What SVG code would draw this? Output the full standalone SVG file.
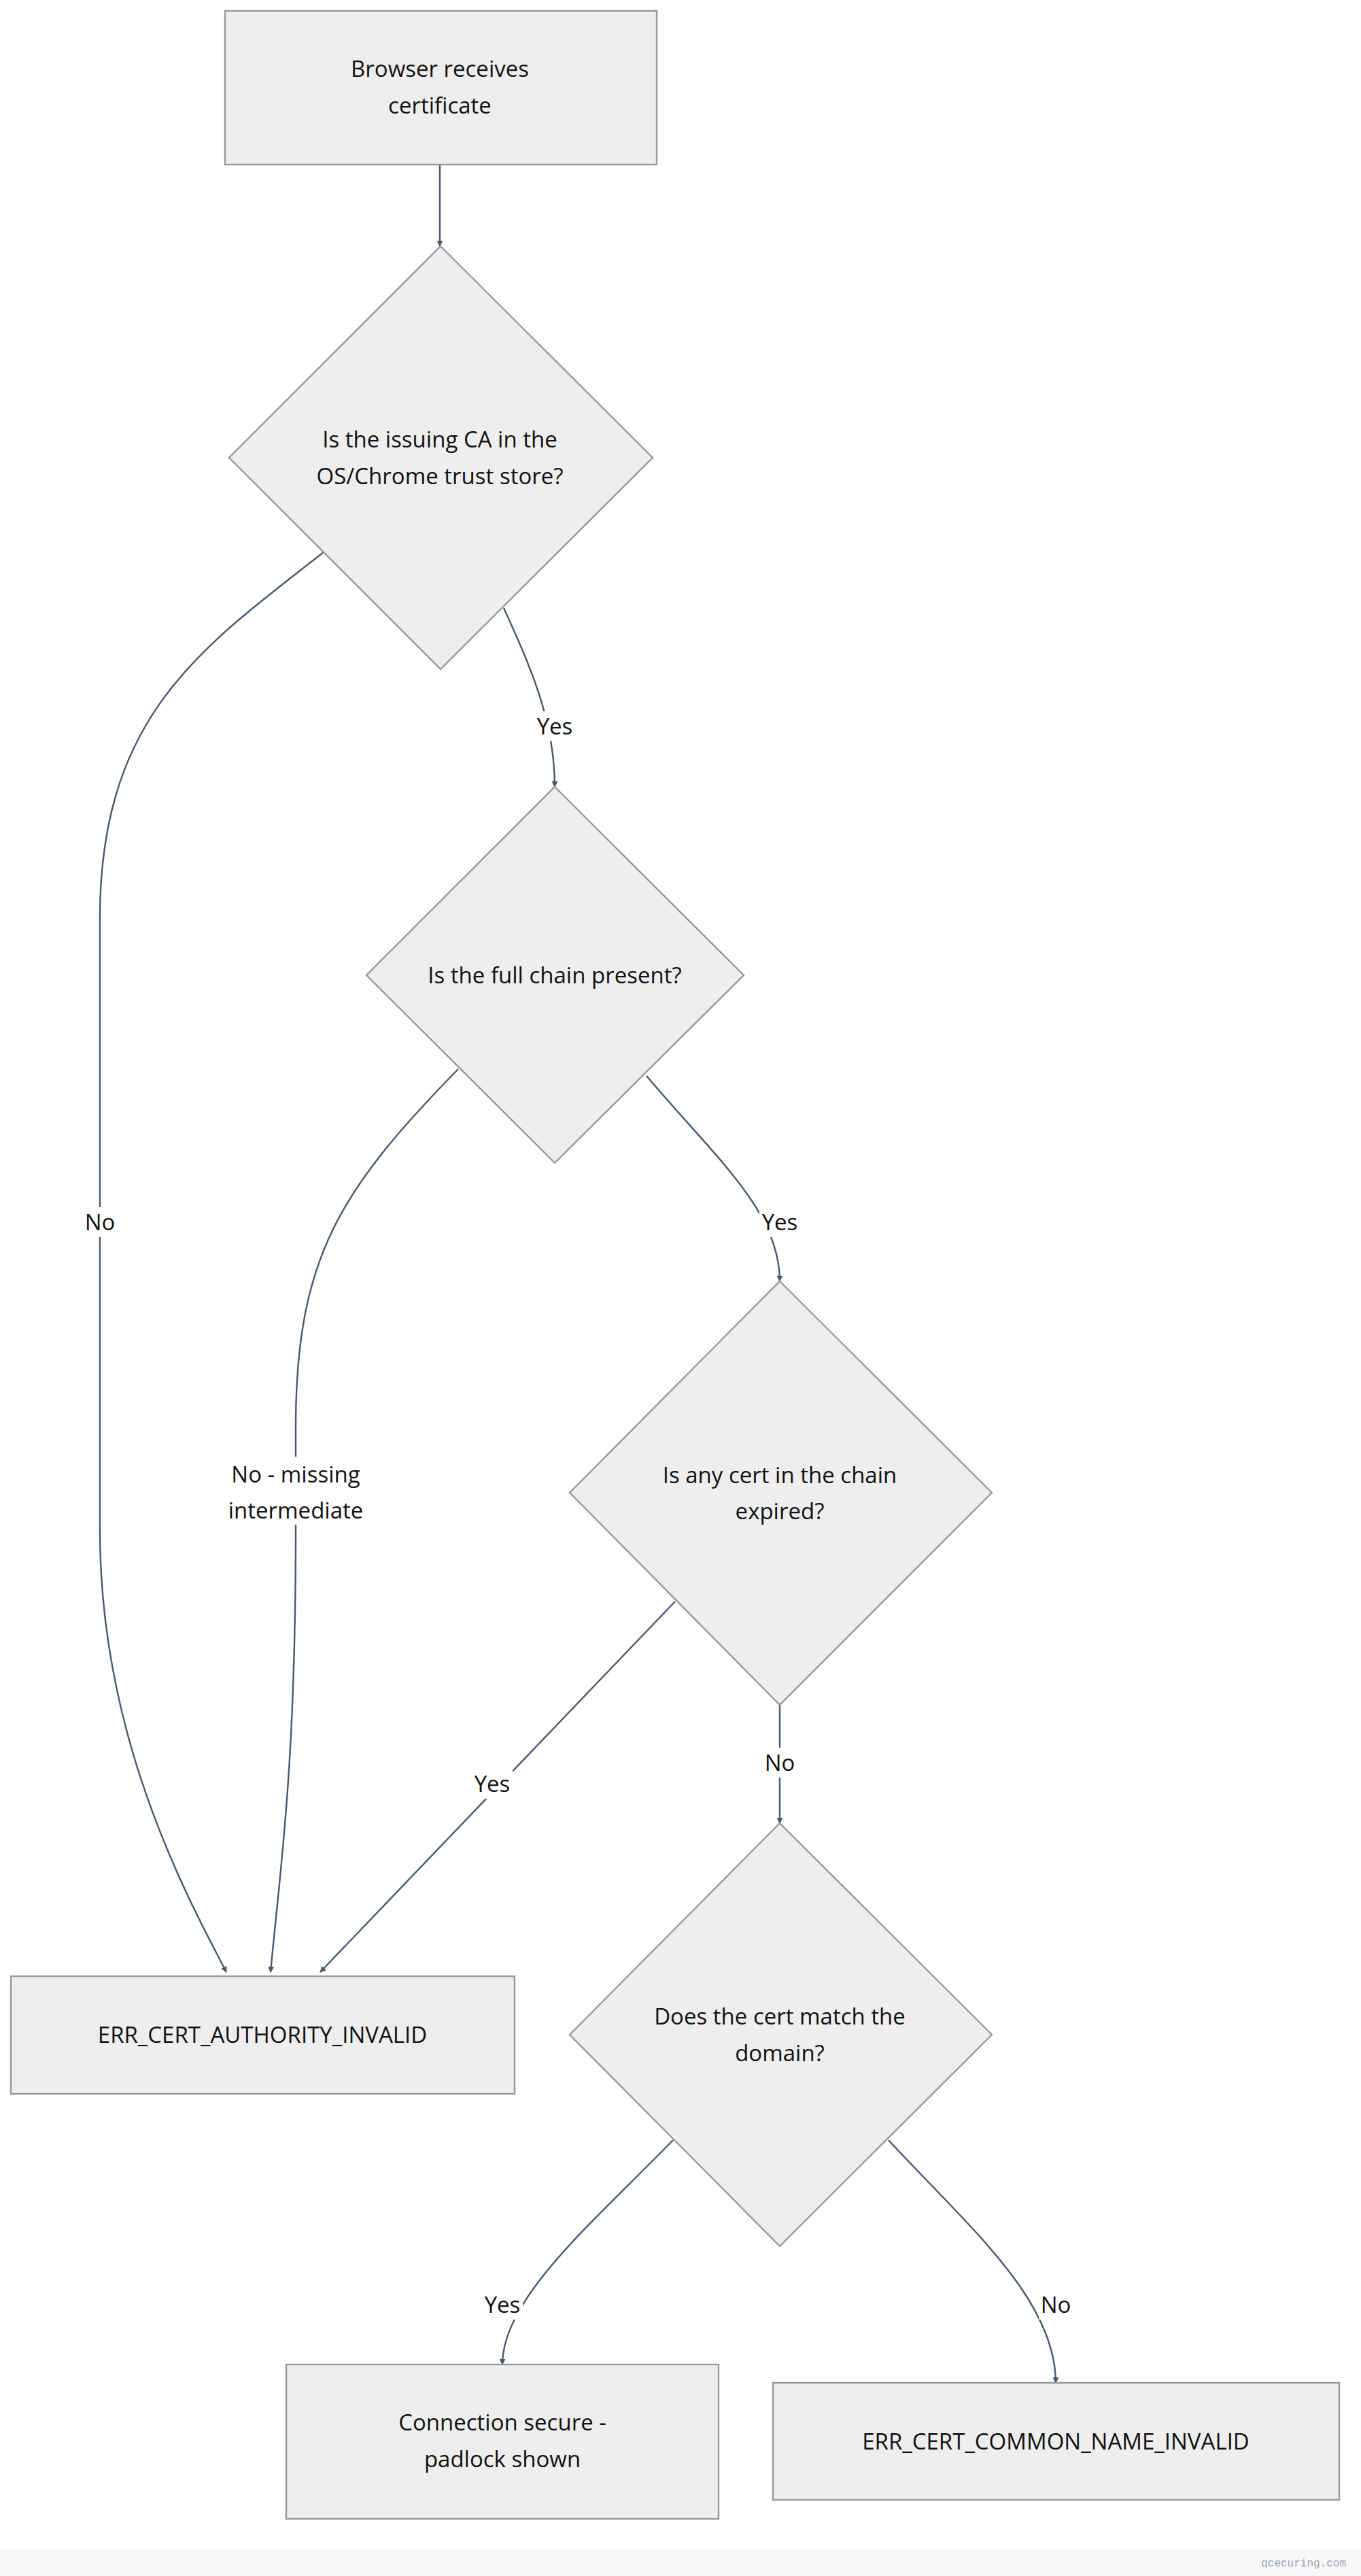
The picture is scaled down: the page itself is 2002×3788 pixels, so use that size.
<svg xmlns="http://www.w3.org/2000/svg" width="2002" height="3788" viewBox="0 0 2002 3788">
<style>
.n{fill:#eeeeee;stroke:#999999;stroke-width:2.4}
.t{font-family:"Open Sans","Liberation Sans",sans-serif;font-size:33px;fill:#111;text-anchor:middle}
.e{fill:none;stroke:#4a5870;stroke-width:2.4}
.lb{fill:#ffffff}
</style>
<defs>
<marker id="ah" viewBox="0 0 10 10" refX="9" refY="5" markerWidth="9" markerHeight="9" markerUnits="userSpaceOnUse" orient="auto"><path d="M0,0L10,5L0,10z" fill="#4a5870"/></marker>
</defs>
<rect x="0" y="0" width="2002" height="3788" fill="#ffffff"/>
<rect x="0" y="3748" width="2002" height="40" fill="#f7f8fa"/>
<text x="1980" y="3774" font-family="Liberation Mono,monospace" font-size="16" fill="#9aa0a8" text-anchor="end">qcecuring.com</text>
<g id="edges">
<path class="e" marker-end="url(#ah)" d="M647,242L647,362"/>
<path class="e" marker-end="url(#ah)" d="M476,812C300,950 147,1050 147,1350L147,2250C147,2550 270,2780 333,2900"/>
<path class="e" marker-end="url(#ah)" d="M741,894C780,980 816,1060 816,1157"/>
<path class="e" marker-end="url(#ah)" d="M674,1572C500,1750 435,1850 435,2100L435,2250C435,2600 412,2750 398,2900"/>
<path class="e" marker-end="url(#ah)" d="M951,1582C1050,1700 1147,1780 1147,1884"/>
<path class="e" marker-end="url(#ah)" d="M993,2355L471,2900"/>
<path class="e" marker-end="url(#ah)" d="M1147,2507L1147,2681"/>
<path class="e" marker-end="url(#ah)" d="M990,3147C870,3270 739,3380 739,3477"/>
<path class="e" marker-end="url(#ah)" d="M1307,3147C1420,3270 1553,3380 1553,3504"/>
</g>
<g id="labels">
<rect class="lb" x="122" y="1775" width="50" height="44"/><text class="t" x="147" y="1809">No</text>
<rect class="lb" x="786" y="1046" width="60" height="44"/><text class="t" x="816" y="1080">Yes</text>
<rect class="lb" x="325" y="2142" width="220" height="100"/><text class="t" x="435" y="2180">No - missing</text><text class="t" x="435" y="2233">intermediate</text>
<rect class="lb" x="1117" y="1775" width="60" height="44"/><text class="t" x="1147" y="1809">Yes</text>
<rect class="lb" x="694" y="2601" width="60" height="44"/><text class="t" x="724" y="2635">Yes</text>
<rect class="lb" x="1122" y="2570" width="50" height="44"/><text class="t" x="1147" y="2604">No</text>
<rect class="lb" x="709" y="3367" width="60" height="44"/><text class="t" x="739" y="3401">Yes</text>
<rect class="lb" x="1528" y="3367" width="50" height="44"/><text class="t" x="1553" y="3401">No</text>
</g>
<g id="start"><rect class="n" x="331" y="16" width="635" height="226"/><text class="t" x="647" y="113">Browser receives</text><text class="t" x="647" y="167">certificate</text></g>
<g id="q1"><polygon class="n" points="648,362 960,673 648,984 337,673"/><text class="t" x="647" y="658">Is the issuing CA in the</text><text class="t" x="647" y="712">OS/Chrome trust store?</text></g>
<g id="q2"><polygon class="n" points="816,1157 1094,1434 816,1710 539,1434"/><text class="t" x="816" y="1446">Is the full chain present?</text></g>
<g id="q3"><polygon class="n" points="1147,1884 1459,2195 1147,2507 838,2195"/><text class="t" x="1147" y="2181">Is any cert in the chain</text><text class="t" x="1147" y="2234">expired?</text></g>
<g id="q4"><polygon class="n" points="1147,2681 1459,2992 1147,3303 838,2992"/><text class="t" x="1147" y="2977">Does the cert match the</text><text class="t" x="1147" y="3031">domain?</text></g>
<g id="errAuth"><rect class="n" x="16" y="2906" width="741" height="173"/><text class="t" x="386" y="3004">ERR_CERT_AUTHORITY_INVALID</text></g>
<g id="secure"><rect class="n" x="421" y="3477" width="636" height="227"/><text class="t" x="739" y="3574">Connection secure -</text><text class="t" x="739" y="3628">padlock shown</text></g>
<g id="errCN"><rect class="n" x="1137" y="3504" width="833" height="172"/><text class="t" x="1553" y="3602">ERR_CERT_COMMON_NAME_INVALID</text></g>
</svg>
